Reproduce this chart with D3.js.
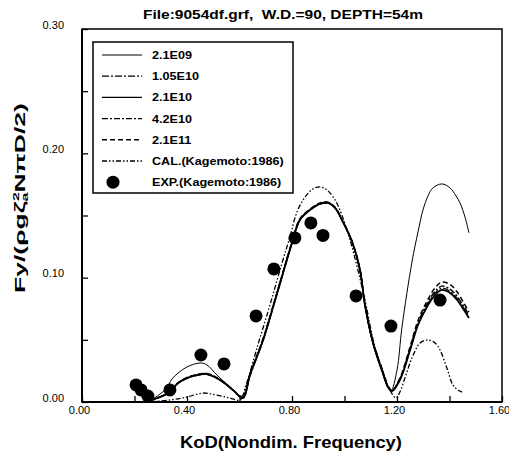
<!DOCTYPE html>
<html><head><meta charset="utf-8">
<script src="https://cdn.jsdelivr.net/npm/d3@7"></script>
<style>body{margin:0;background:#fff}svg{display:block}text{white-space:pre}</style>
</head><body>
<script>
const title = "File:9054df.grf,  W.D.=90, DEPTH=54m";
const xTicks = [0, 0.4, 0.8, 1.2, 1.6];
const yTicks = [0, 0.1, 0.2, 0.3];
const seriesNames = ["2.1E09", "1.05E10", "2.1E10", "4.2E10", "2.1E11", "CAL.(Kagemoto:1986)"];
const expName = "EXP.(Kagemoto:1986)";

const kodMain = [0.259,0.335,0.362,0.400,0.438,0.476,0.526,0.575,0.613,0.640,0.690,0.728,0.766,0.800,0.830,0.869,0.907,0.937,0.964,0.994,1.029,1.059,1.078,1.109,1.143,1.166,1.181,1.211,1.250,1.280,1.314,1.345,1.371,1.402,1.429,1.455,1.474];
const fy_1_05E10 = [0.001,0.008,0.0142,0.0190,0.0214,0.0222,0.0175,0.0095,0.0030,0.0212,0.0494,0.0760,0.1034,0.1276,0.1462,0.1544,0.1592,0.1600,0.1560,0.1447,0.1286,0.1060,0.0778,0.0473,0.0255,0.0120,0.0088,0.0180,0.0425,0.0628,0.0775,0.0874,0.0915,0.0890,0.0834,0.0752,0.0688];
const fy_2_1E10 = [0.001,0.008,0.0145,0.0193,0.0217,0.0225,0.0177,0.0097,0.0032,0.0217,0.0499,0.0764,0.1038,0.1279,0.1464,0.1545,0.1593,0.1601,0.1561,0.1448,0.1287,0.1062,0.0780,0.0475,0.0257,0.0121,0.0088,0.0177,0.0418,0.0619,0.0764,0.0861,0.0901,0.0877,0.0821,0.0740,0.0676];
const fy_4_2E10 = [0.001,0.008,0.0146,0.0195,0.0219,0.0227,0.0179,0.0098,0.0033,0.0222,0.0505,0.0770,0.1044,0.1284,0.1468,0.1549,0.1597,0.1604,0.1563,0.1450,0.1289,0.1064,0.0782,0.0478,0.0260,0.0124,0.0090,0.0185,0.0432,0.0637,0.0788,0.0890,0.0932,0.0908,0.0850,0.0766,0.0700];
const fy_2_1E11 = [0.001,0.008,0.0148,0.0197,0.0221,0.0229,0.0180,0.0099,0.0034,0.0226,0.0510,0.0775,0.1048,0.1288,0.1472,0.1552,0.1600,0.1607,0.1566,0.1452,0.1291,0.1066,0.0785,0.0482,0.0264,0.0128,0.0093,0.0192,0.0445,0.0655,0.0810,0.0918,0.0965,0.0945,0.0885,0.0795,0.0725];

const kod09 = [0.259,0.316,0.343,0.366,0.400,0.450,0.476,0.514,0.564,0.610,0.640,0.690,0.728,0.766,0.800,0.830,0.869,0.907,0.937,0.964,0.994,1.029,1.059,1.078,1.109,1.143,1.166,1.177,1.200,1.219,1.257,1.280,1.299,1.318,1.337,1.371,1.402,1.425,1.440,1.459,1.474];
const fy_2_1E09 = [0.001,0.0097,0.0185,0.0233,0.0282,0.0314,0.0298,0.0217,0.0121,0.0048,0.0225,0.0505,0.0770,0.1045,0.1285,0.1470,0.1550,0.1598,0.1605,0.1565,0.1450,0.1285,0.1055,0.0770,0.0460,0.0240,0.0110,0.0088,0.0257,0.0603,0.1126,0.1368,0.1545,0.1657,0.1722,0.1754,0.1722,0.1657,0.1601,0.1488,0.1360];

const kodCal = [0.250,0.335,0.400,0.461,0.514,0.564,0.602,0.625,0.670,0.716,0.762,0.792,0.819,0.850,0.880,0.907,0.933,0.964,0.990,1.021,1.051,1.082,1.112,1.147,1.173,1.196,1.211,1.234,1.257,1.288,1.318,1.345,1.364,1.390,1.413,1.432,1.448];
const fyCal = [0.000,0.0016,0.0040,0.0072,0.0056,0.0032,0.0016,0.0137,0.0459,0.0780,0.1118,0.1327,0.1529,0.1649,0.1714,0.1730,0.1706,0.1625,0.1504,0.1303,0.1062,0.0780,0.0475,0.0241,0.0097,0.0032,0.0080,0.0217,0.0354,0.0475,0.0499,0.0475,0.0418,0.0274,0.0137,0.0097,0.0080];

const kodExp = [0.206,0.225,0.251,0.335,0.453,0.541,0.663,0.731,0.811,0.872,0.918,1.044,1.177,1.364];
const fyExp = [0.0137,0.0097,0.0048,0.0097,0.0378,0.0306,0.0692,0.1070,0.1320,0.1440,0.1340,0.0853,0.0611,0.0820];

const W = 509, H = 451;
const M = {left: 82, right: 502, top: 29, bottom: 402};
const svg = d3.select("body").append("svg").attr("width", W).attr("height", H);
const x = d3.scaleLinear().domain([0, 1.6]).range([M.left, M.right]);
const y = d3.scaleLinear().domain([0, 0.3]).range([M.bottom, M.top]);

const FONT = "'Liberation Sans', Arial, sans-serif";
function stretch(sel, factor) {
  sel.each(function() {
    const w = this.getComputedTextLength();
    d3.select(this).attr("textLength", w * factor).attr("lengthAdjust", "spacingAndGlyphs");
  });
}

const tt = svg.append("text").attr("x", 283).attr("y", 19).attr("text-anchor", "middle")
  .attr("font-family", FONT).attr("font-weight", "bold").attr("font-size", 13)
  .text(title);
tt.attr("textLength", 280).attr("lengthAdjust", "spacingAndGlyphs");

// frame
svg.append("rect").attr("x", M.left).attr("y", M.top).attr("width", M.right - M.left).attr("height", M.bottom - M.top)
  .attr("fill", "none").attr("stroke", "#000").attr("stroke-width", 1.5);
svg.append("line").attr("x1", M.left).attr("x2", M.right).attr("y1", M.bottom).attr("y2", M.bottom).attr("stroke", "#000").attr("stroke-width", 2.2);
svg.append("line").attr("x1", M.left).attr("x2", M.left).attr("y1", M.top).attr("y2", M.bottom).attr("stroke", "#000").attr("stroke-width", 2);

// axes
const xAxis = d3.axisBottom(x).tickValues(d3.range(0, 1.61, 0.2)).tickSizeInner(-6).tickSizeOuter(0).tickFormat(d => xTicks.some(t => Math.abs(t - d) < 1e-6) ? d3.format(".2f")(d) : "");
const gx = svg.append("g").attr("transform", `translate(0,${M.bottom})`).call(xAxis);
gx.select(".domain").remove();
gx.selectAll("line").attr("stroke-width", 1.3);
gx.selectAll("text").attr("font-family", FONT).attr("font-size", 10).attr("dy", "0.85em").attr("dx", -3);
stretch(gx.selectAll("text").filter(function(){ return this.textContent !== ""; }), 1.1);

const yAxis = d3.axisLeft(y).tickValues(d3.range(0, 0.301, 0.05)).tickSizeInner(-6).tickSizeOuter(0).tickFormat(d => yTicks.some(t => Math.abs(t - d) < 1e-6) ? d3.format(".2f")(d) : "");
const gy = svg.append("g").attr("transform", `translate(${M.left},0)`).call(yAxis);
gy.select(".domain").remove();
gy.selectAll("line").attr("stroke-width", 1.3);
gy.selectAll("text").attr("font-family", FONT).attr("font-size", 10).attr("x", -18).attr("dy", "-0.1em");
stretch(gy.selectAll("text").filter(function(){ return this.textContent !== ""; }), 1.1);

// axis titles
const xl = svg.append("text").attr("x", 291).attr("y", 448).attr("text-anchor", "middle")
  .attr("font-family", FONT).attr("font-weight", "bold").attr("font-size", 16.5)
  .text("KoD(Nondim. Frequency)");
xl.attr("textLength", 222).attr("lengthAdjust", "spacingAndGlyphs");
const yl = svg.append("text").attr("text-anchor", "middle")
  .attr("font-family", FONT).attr("font-weight", "bold").attr("font-size", 14);
yl.append("tspan").text("Fy/(ρgζ");
yl.append("tspan").attr("font-size", 8.5).attr("dy", -6).text("2");
yl.append("tspan").attr("font-size", 8.5).attr("dy", 9).attr("dx", -5).text("a");
yl.append("tspan").attr("dy", -3).text("NπD/2)");
const ylw = yl.node().getBBox().width;
yl.attr("transform", `translate(25,198) rotate(-90) scale(${190 / ylw},1)`);

// series
const styles = [
  {w: 1.0, dash: null},
  {w: 1.3, dash: "7,2,2,2"},
  {w: 1.8, dash: null},
  {w: 1.5, dash: "6,2,2,2"},
  {w: 1.5, dash: "5,3"},
  {w: 1.3, dash: "5,2,1.5,2,1.5,2"}
];
const series = [
  {xs: kod09, ys: fy_2_1E09},
  {xs: kodMain, ys: fy_1_05E10},
  {xs: kodMain, ys: fy_2_1E10},
  {xs: kodMain, ys: fy_4_2E10},
  {xs: kodMain, ys: fy_2_1E11},
  {xs: kodCal, ys: fyCal}
];
const line = d3.line().x(d => x(d[0])).y(d => y(d[1])).curve(d3.curveCatmullRom.alpha(0.5));
const plot = svg.append("g");
series.forEach((s, i) => {
  const pts = s.xs.map((v, j) => [v, s.ys[j]]);
  plot.append("path").attr("d", line(pts)).attr("fill", "none").attr("stroke", "#000")
    .attr("stroke-width", styles[i].w).attr("stroke-dasharray", styles[i].dash);
});
plot.selectAll("circle").data(kodExp.map((v, j) => [v, fyExp[j]])).enter().append("circle")
  .attr("cx", d => x(d[0])).attr("cy", d => y(d[1])).attr("r", 6.5).attr("fill", "#000");

// legend
const lg = svg.append("g");
lg.append("rect").attr("x", 93).attr("y", 42).attr("width", 200).attr("height", 151)
  .attr("fill", "#fff").attr("stroke", "#000").attr("stroke-width", 1.5);
const names = seriesNames.concat([expName]);
names.forEach((n, i) => {
  const yy = 55 + i * 21.2;
  if (i < 6) {
    lg.append("line").attr("x1", 102).attr("x2", 142).attr("y1", yy).attr("y2", yy)
      .attr("stroke", "#000").attr("stroke-width", Math.min(styles[i].w, 1.4)).attr("stroke-dasharray", styles[i].dash);
  } else {
    lg.append("circle").attr("cx", 113).attr("cy", yy).attr("r", 6.5).attr("fill", "#000");
  }
  const t = lg.append("text").attr("x", 152).attr("y", yy + 4).attr("font-family", FONT)
    .attr("font-weight", "bold").attr("font-size", 10.5).text(n);
  stretch(t, 1.2);
});
</script>
</body></html>
